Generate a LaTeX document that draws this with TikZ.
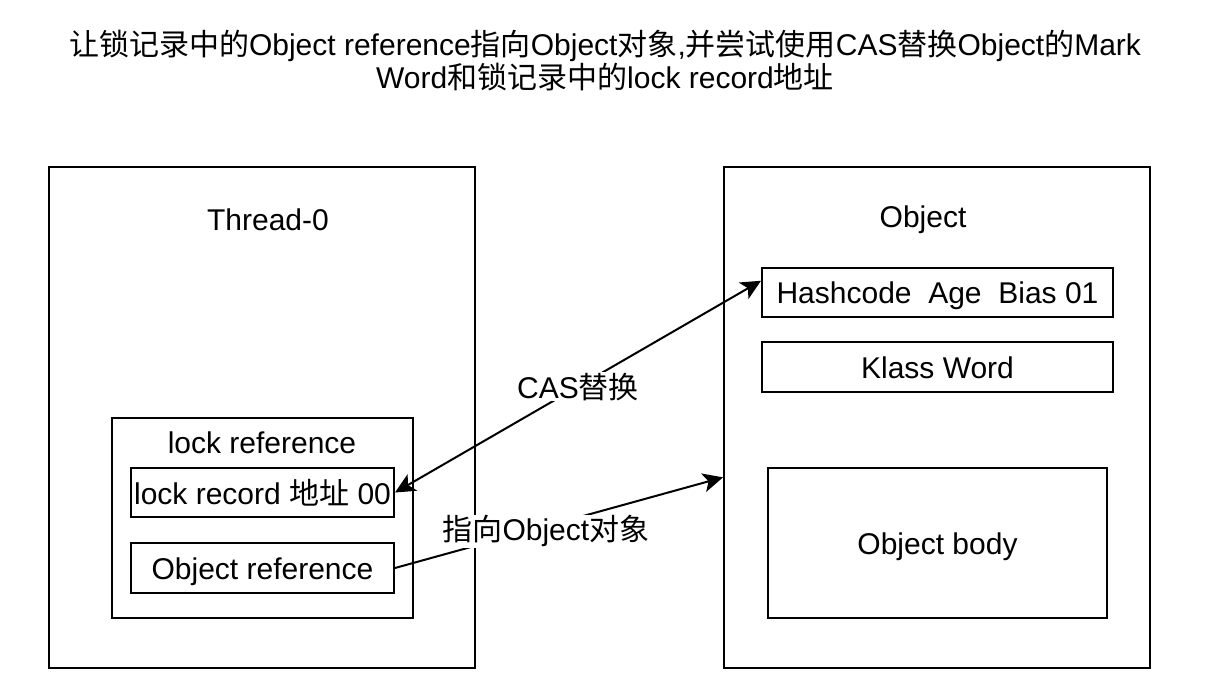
\documentclass[tikz,border=0pt]{standalone}
\usepackage{fontspec}
\setmainfont{Liberation Sans}
\newfontfamily\cjkfnt{Noto Sans CJK SC}
\newcommand{\zhs}[1]{{\cjkfnt #1}}
\usetikzlibrary{arrows.meta,calc}
\begin{document}
\begin{tikzpicture}[x=1pt,y=-1pt,
  every node/.style={font=\fontsize{30}{33}\selectfont},
  box/.style={draw,line width=2pt,rectangle,inner sep=0pt,text height=23pt,text depth=0pt},
  lbl/.style={fill=white,inner sep=1pt},
  conn/.style={line width=2pt,-{Stealth[length=20pt,width=19pt,inset=5pt]}},
  conn2/.style={line width=2pt,{Stealth[length=20pt,width=19pt,inset=5pt]}-{Stealth[length=20pt,width=19pt,inset=5pt]}}]
\useasboundingbox (0,0) rectangle (1217,700);
\node[align=center] (title) at (605,61) {\zhs{让锁记录中的}Object reference\zhs{指向}Object\zhs{对象},\zhs{并尝试使用}CAS\zhs{替换}Object\zhs{的}Mark\\Word\zhs{和锁记录中的}lock record\zhs{地址}};
\node[box,minimum width=426pt,minimum height=500pt] (thread) at (262,417.5) {};
\node[box,minimum width=426pt,minimum height=501pt] (obj) at (937,417.5) {};
\node (threadlbl) at (268,220) {Thread-0};
\node (objlbl) at (923,220) {Object};
\node[box,minimum width=301pt,minimum height=200pt] (lockref) at (262,518) {};
\node (lockreflbl) at (262,443) {lock reference};
\node[box,minimum width=263pt,minimum height=49pt] (lockrec) at (262.5,492.5) {lock record \zhs{地址} 00};
\node[box,minimum width=263pt,minimum height=50pt] (objref) at (262.5,568) {Object reference};
\node[box,minimum width=351pt,minimum height=49pt] (hash) at (937.5,292.5) {Hashcode\ \ Age\ \ Bias 01};
\node[box,minimum width=351pt,minimum height=50pt] (klass) at (937.5,367) {Klass Word};
\node[box,minimum width=339pt,minimum height=150pt] (body) at (937.5,543) {Object body};
\coordinate (hashin) at ($(hash.north west)!0.27!(hash.south west)$);
\coordinate (objin) at ($(obj.north west)!0.619!(obj.south west)$);
\draw[conn2] (lockrec.east) -- (hashin) node[lbl,pos=0.5] (caslbl) {CAS\zhs{替换}};
\draw[conn] (objref.east) -- (objin) node[lbl,pos=0.46,yshift=-5pt] (ptrlbl) {\zhs{指向}Object\zhs{对象}};
\end{tikzpicture}
\end{document}
